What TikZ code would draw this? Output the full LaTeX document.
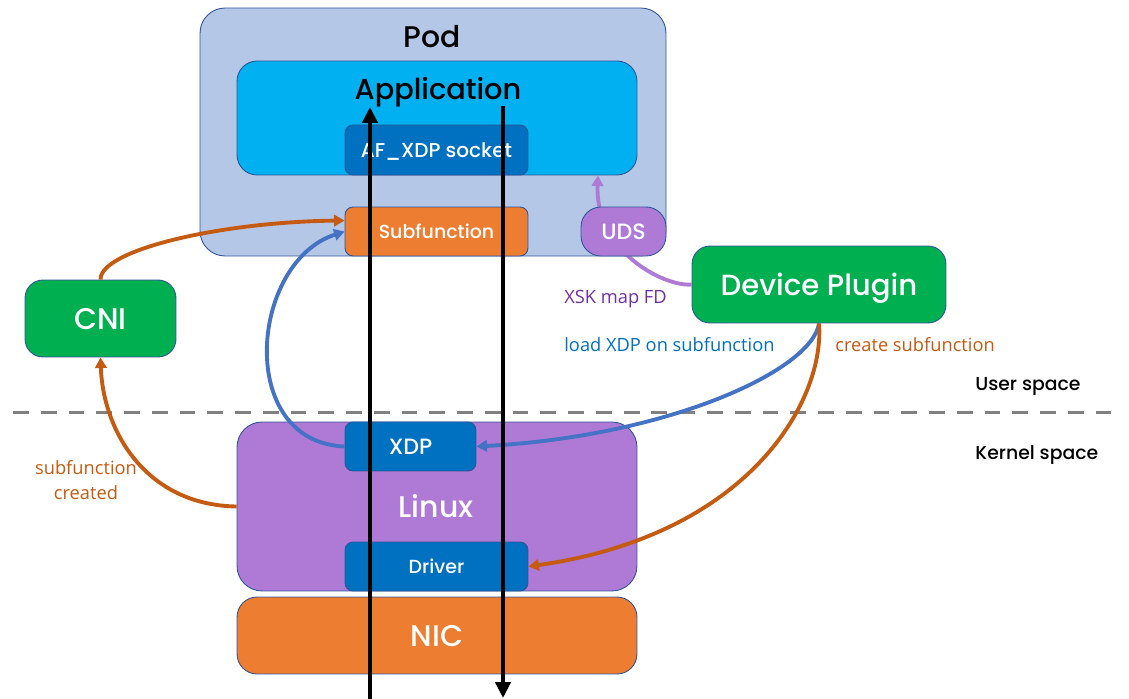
\documentclass[tikz,border=0pt]{standalone}
\usepackage{fontspec}
\setmainfont{Poppins Medium}
\newfontfamily\labelfont{Open Sans}
\usetikzlibrary{arrows.meta,calc}
\definecolor{podblue}{HTML}{B4C7E7}
\definecolor{edgeblue}{HTML}{2F5597}
\definecolor{appblue}{HTML}{00B0F0}
\definecolor{darkblue}{HTML}{0070C0}
\definecolor{boxorange}{HTML}{ED7D31}
\definecolor{boxpurple}{HTML}{AE7AD6}
\definecolor{boxgreen}{HTML}{00B050}
\definecolor{linkblue}{HTML}{4472C4}
\definecolor{linkorange}{HTML}{C55A11}
\definecolor{textpurple}{HTML}{7030A0}
\tikzset{
  box/.style={draw=edgeblue,line width=0.5pt,inner sep=0pt,rectangle},
  whitetext/.style={text=white},
  bigtext/.style={font=\fontsize{17}{20}\selectfont,text depth=0pt},
  midtext/.style={font=\fontsize{10.8}{13}\selectfont,text depth=0pt},
  note/.style={font=\labelfont\fontsize{10.4}{14.5}\selectfont,align=center,inner sep=0pt},
  spacetext/.style={font=\fontsize{10.7}{13}\selectfont,anchor=west,inner sep=0pt},
  link/.style={line width=2.2pt,-{Triangle[length=6pt,width=6.5pt]}},
  flow/.style={line width=2.2pt,-{Triangle[length=9pt,width=8.5pt]}}
}
\begin{document}
\begin{tikzpicture}[x=0.02cm,y=-0.02cm]
\useasboundingbox (0,0) rectangle (1129,699);

\node[box,fill=podblue,minimum width=9.32cm,minimum height=4.96cm,rounded corners=0.5cm] (pod) at (433,132) {}; %pod
\node[bigtext] (podtext) at (432,36) {Pod};
\node[box,fill=appblue,minimum width=8cm,minimum height=2.28cm,rounded corners=0.4cm] (app) at (437,118) {}; %application
\node[bigtext,font=\fontsize{16.4}{20}\selectfont] (apptext) at (438,88) {Application};
\node[box,fill=darkblue,whitetext,midtext,font=\fontsize{11.4}{13}\selectfont,minimum width=3.66cm,minimum height=1cm,rounded corners=0.16cm] (socket) at (436.5,150) {AF\_XDP socket};
\node[box,fill=boxorange,whitetext,midtext,minimum width=3.66cm,minimum height=0.98cm,rounded corners=0.16cm] (subfn) at (436.5,231.5) {Subfunction};

\node[box,fill=boxgreen,whitetext,bigtext,font=\fontsize{16.6}{20}\selectfont,minimum width=5.08cm,minimum height=1.54cm,rounded corners=0.36cm] (plugin) at (819,284.5) {Device Plugin};
\node[box,fill=boxgreen,whitetext,bigtext,minimum width=3.02cm,minimum height=1.54cm,rounded corners=0.36cm] (cni) at (100.5,318.5) {CNI};

\draw[link,boxpurple] (plugin.west) .. controls (665,287) and (595,252) .. ([xshift=3.22cm]app.south); %fd to app
\node[box,fill=boxpurple,whitetext,midtext,font=\fontsize{12.6}{15}\selectfont,minimum width=1.7cm,minimum height=0.98cm,rounded corners=0.4cm] (uds) at (623.5,231.5) {UDS};

\draw[gray,line width=2.2pt,dash pattern=on 9pt off 6.8pt] (13,412.5)--(1116,412.5); %user/kernel border
\node[spacetext] (user) at (975,386) {User space};
\node[spacetext] (kernel) at (975,455) {Kernel space};

\node[box,fill=boxpurple,minimum width=8cm,minimum height=3.38cm,rounded corners=0.5cm] (linux) at (437,506.5) {}; %linux
\node[whitetext,bigtext] (linuxtext) at (436,506) {Linux};
\node[box,fill=darkblue,whitetext,midtext,font=\fontsize{12.6}{15}\selectfont,minimum width=2.62cm,minimum height=0.98cm,rounded corners=0.16cm] (xdp) at (410.5,446.5) {XDP};
\node[box,fill=darkblue,whitetext,midtext,minimum width=3.66cm,minimum height=0.98cm,rounded corners=0.16cm] (driver) at (436.5,566.5) {Driver};
\node[box,fill=boxorange,whitetext,bigtext,minimum width=8cm,minimum height=1.54cm,rounded corners=0.4cm] (nic) at (437,635.5) {NIC};

\node[note,text=textpurple,anchor=west] (fdtext) at (564,299) {XSK map FD};
\node[note,text=darkblue,anchor=west] (loadtext) at (564,345) {load XDP on subfunction};
\node[note,text=linkorange,anchor=west] (createtext) at (835,345) {create subfunction};
\node[note,text=linkorange] (createdtext) at (86,480) {subfunction\\created};

\draw[link,linkorange] (cni.north) .. controls (100,250) and (220,222) .. ([yshift=0.22cm]subfn.west); %cni to subfunction
\draw[link,linkorange] (linux.west) .. controls (145,505) and (103,430) .. (cni.south); %created
\draw[link,linkblue] (xdp.west) .. controls (235,442) and (250,262) .. (subfn.west); %xdp to subfunction
\draw[link,linkblue] (plugin.south) .. controls (812,370) and (670,436) .. (xdp.east); %load xdp
\draw[link,linkorange] (plugin.south) .. controls (825,400) and (750,535) .. (driver.east); %create

\coordinate (rxstart) at (370,699);
\coordinate (rxend) at (370,107);
\coordinate (txstart) at (503,106);
\coordinate (txend) at (503,698);
\draw[flow] (rxstart)--(rxend); %rx path
\draw[flow] (txstart)--(txend); %tx path
\end{tikzpicture}
\end{document}
